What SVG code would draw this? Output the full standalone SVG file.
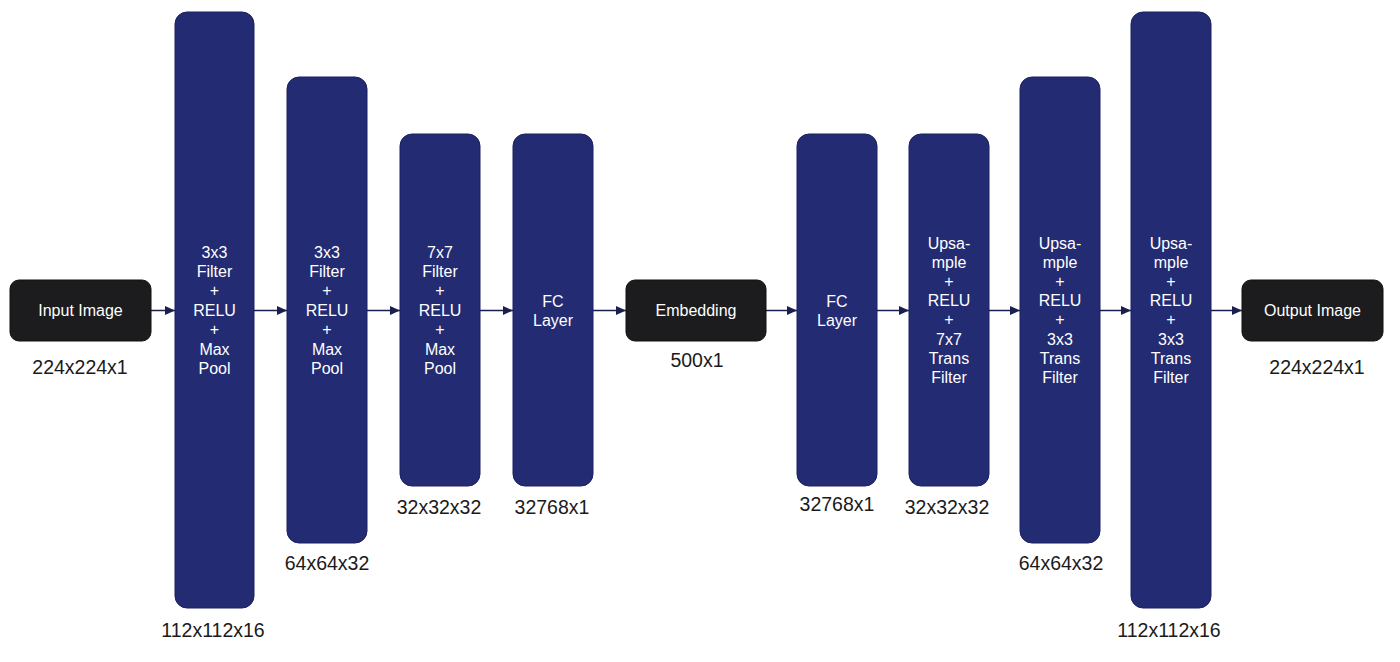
<svg xmlns="http://www.w3.org/2000/svg" width="1400" height="662" viewBox="0 0 1400 662">
<defs>
<style>
.bar{fill:#232b72;stroke:#1b2160;stroke-width:1}
.io{fill:#1c1c1e;stroke:#111;stroke-width:1}
.t{font-family:"Liberation Sans",Arial,sans-serif;font-size:16px;fill:#ffffff;text-anchor:middle}
.lbl{font-family:"Liberation Sans",Arial,sans-serif;font-size:19.5px;fill:#1a1a1a;text-anchor:middle}
.c{stroke:#1a1f4e;stroke-width:1.5;fill:none;marker-end:url(#ah)}
</style>
<marker id="ah" viewBox="0 0 10 10" refX="10" refY="5" markerWidth="10" markerHeight="9" markerUnits="userSpaceOnUse" orient="auto" preserveAspectRatio="none">
<path d="M0,0 L10,5 L0,10 z" fill="#1a1f4e"/>
</marker>
</defs>
<rect width="1400" height="662" fill="#ffffff"/>
<g id="connectors">
<line class="c" x1="151" y1="310.5" x2="175" y2="310.5"/>
<line class="c" x1="254" y1="310.5" x2="287" y2="310.5"/>
<line class="c" x1="367" y1="310.5" x2="400" y2="310.5"/>
<line class="c" x1="480" y1="310.5" x2="513" y2="310.5"/>
<line class="c" x1="593" y1="310.5" x2="626" y2="310.5"/>
<line class="c" x1="766" y1="310.5" x2="797" y2="310.5"/>
<line class="c" x1="877" y1="310.5" x2="909" y2="310.5"/>
<line class="c" x1="989" y1="310.5" x2="1020" y2="310.5"/>
<line class="c" x1="1100" y1="310.5" x2="1131" y2="310.5"/>
<line class="c" x1="1211" y1="310.5" x2="1242" y2="310.5"/>
</g>
<g id="input">
<rect class="io" x="10" y="280" width="141" height="61" rx="9"/>
<text class="t" x="80.5" y="316">Input Image</text>
<text class="lbl" x="80" y="374">224x224x1</text>
</g>
<g id="enc1">
<rect class="bar" x="175" y="12" width="79" height="596" rx="12"/>
<text class="t" x="214.5" y="258">3x3</text>
<text class="t" x="214.5" y="277">Filter</text>
<text class="t" x="214.5" y="296">+</text>
<text class="t" x="214.5" y="316">RELU</text>
<text class="t" x="214.5" y="335">+</text>
<text class="t" x="214.5" y="355">Max</text>
<text class="t" x="214.5" y="374">Pool</text>
<text class="lbl" x="213" y="637">112x112x16</text>
</g>
<g id="enc2">
<rect class="bar" x="287" y="77" width="80" height="466" rx="12"/>
<text class="t" x="327" y="258">3x3</text>
<text class="t" x="327" y="277">Filter</text>
<text class="t" x="327" y="296">+</text>
<text class="t" x="327" y="316">RELU</text>
<text class="t" x="327" y="335">+</text>
<text class="t" x="327" y="355">Max</text>
<text class="t" x="327" y="374">Pool</text>
<text class="lbl" x="327" y="570">64x64x32</text>
</g>
<g id="enc3">
<rect class="bar" x="400" y="134" width="80" height="352" rx="12"/>
<text class="t" x="440" y="258">7x7</text>
<text class="t" x="440" y="277">Filter</text>
<text class="t" x="440" y="296">+</text>
<text class="t" x="440" y="316">RELU</text>
<text class="t" x="440" y="335">+</text>
<text class="t" x="440" y="355">Max</text>
<text class="t" x="440" y="374">Pool</text>
<text class="lbl" x="439" y="514">32x32x32</text>
</g>
<g id="fc1">
<rect class="bar" x="513" y="134" width="80" height="352" rx="12"/>
<text class="t" x="553" y="307">FC</text>
<text class="t" x="553" y="326">Layer</text>
<text class="lbl" x="552" y="514">32768x1</text>
</g>
<g id="embedding">
<rect class="io" x="626" y="280" width="140" height="61" rx="9"/>
<text class="t" x="696" y="316">Embedding</text>
<text class="lbl" x="697" y="367">500x1</text>
</g>
<g id="fc2">
<rect class="bar" x="797" y="134" width="80" height="352" rx="12"/>
<text class="t" x="837" y="307">FC</text>
<text class="t" x="837" y="326">Layer</text>
<text class="lbl" x="837" y="511">32768x1</text>
</g>
<g id="dec1">
<rect class="bar" x="909" y="134" width="80" height="352" rx="12"/>
<text class="t" x="949" y="249">Upsa-</text>
<text class="t" x="949" y="268">mple</text>
<text class="t" x="949" y="287">+</text>
<text class="t" x="949" y="306">RELU</text>
<text class="t" x="949" y="325">+</text>
<text class="t" x="949" y="345">7x7</text>
<text class="t" x="949" y="364">Trans</text>
<text class="t" x="949" y="383">Filter</text>
<text class="lbl" x="947" y="514">32x32x32</text>
</g>
<g id="dec2">
<rect class="bar" x="1020" y="77" width="80" height="466" rx="12"/>
<text class="t" x="1060" y="249">Upsa-</text>
<text class="t" x="1060" y="268">mple</text>
<text class="t" x="1060" y="287">+</text>
<text class="t" x="1060" y="306">RELU</text>
<text class="t" x="1060" y="325">+</text>
<text class="t" x="1060" y="345">3x3</text>
<text class="t" x="1060" y="364">Trans</text>
<text class="t" x="1060" y="383">Filter</text>
<text class="lbl" x="1061" y="570">64x64x32</text>
</g>
<g id="dec3">
<rect class="bar" x="1131" y="12" width="80" height="596" rx="12"/>
<text class="t" x="1171" y="249">Upsa-</text>
<text class="t" x="1171" y="268">mple</text>
<text class="t" x="1171" y="287">+</text>
<text class="t" x="1171" y="306">RELU</text>
<text class="t" x="1171" y="325">+</text>
<text class="t" x="1171" y="345">3x3</text>
<text class="t" x="1171" y="364">Trans</text>
<text class="t" x="1171" y="383">Filter</text>
<text class="lbl" x="1169" y="637">112x112x16</text>
</g>
<g id="output">
<rect class="io" x="1242" y="280" width="141" height="61" rx="9"/>
<text class="t" x="1312.5" y="316">Output Image</text>
<text class="lbl" x="1317" y="374">224x224x1</text>
</g>
</svg>
